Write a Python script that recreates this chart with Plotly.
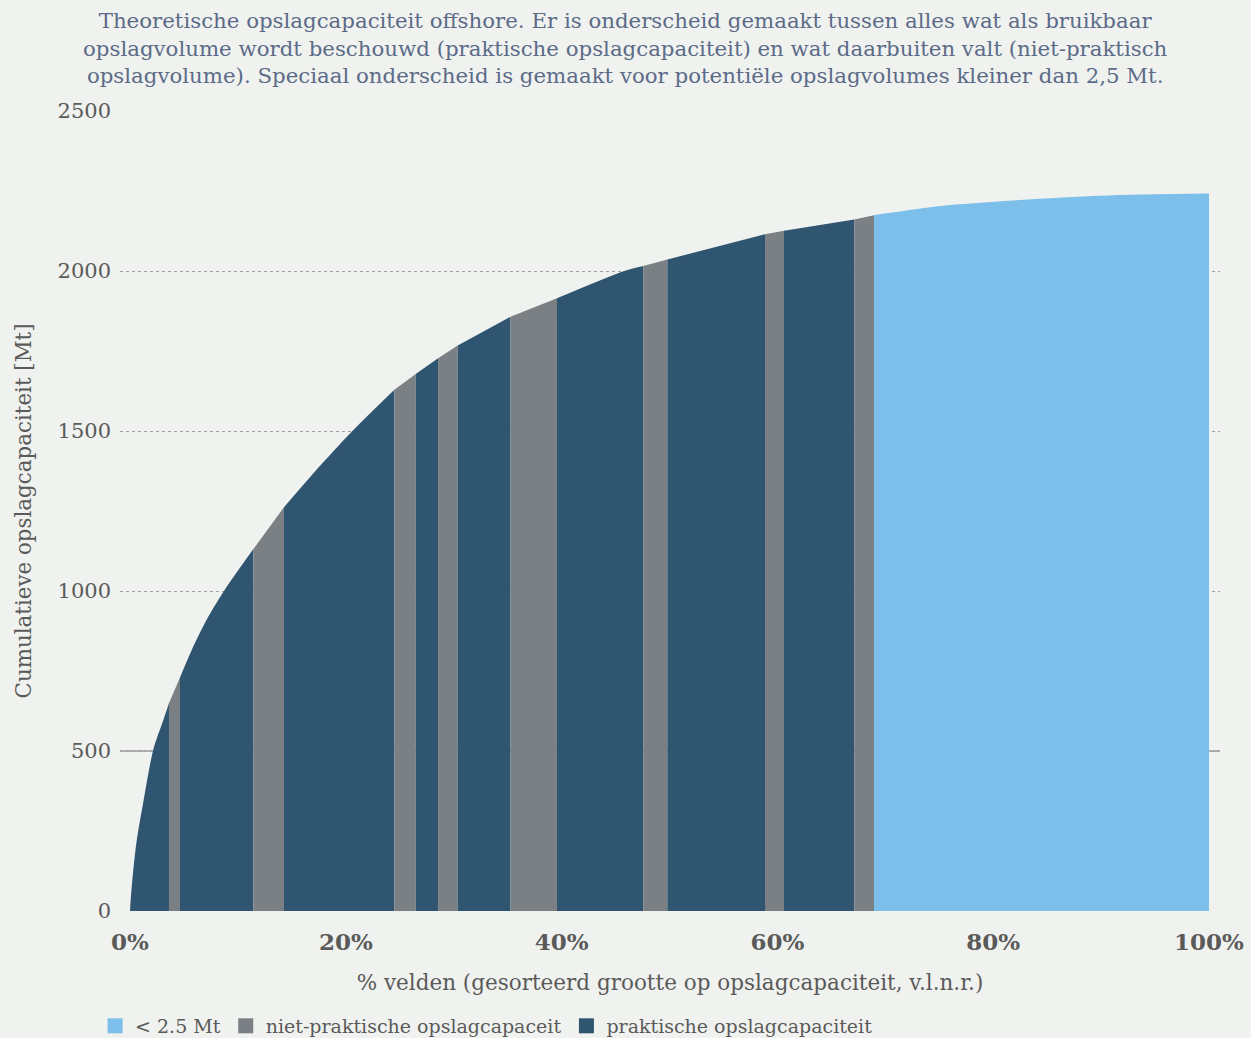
import plotly.graph_objects as go

# Upper boundary of the cumulative curve (% of fields, cumulative Mt)
pct = [0, 0.06, 0.25, 0.62, 1.23, 2.16, 3.09, 3.61, 4.63, 5.72, 7.26, 8.80, 11.43, 14.27,
       16.84, 20.70, 24.50, 26.48, 28.55, 30.37, 35.26, 39.57, 45.88, 47.57, 49.80,
       58.85, 60.61, 67.13, 68.95, 76.0, 89.9, 100]
cum = [0, 34, 110, 220, 340, 505, 597, 649, 730, 816, 920, 1005, 1131, 1262,
       1362, 1503, 1629, 1678, 1727, 1767, 1857, 1915, 2001, 2016, 2036,
       2115, 2126, 2161, 2174, 2206, 2235, 2242]

# Coloured segments along the x axis
seg_start = [0, 3.61, 4.63, 11.43, 14.27, 24.50, 26.48, 28.55, 30.37, 35.26,
             39.57, 47.57, 49.80, 58.85, 60.61, 67.13, 68.95]
seg_end = [3.61, 4.63, 11.43, 14.27, 24.50, 26.48, 28.55, 30.37, 35.26, 39.57,
           47.57, 49.80, 58.85, 60.61, 67.13, 68.95, 100]
seg_type = ["prak", "niet", "prak", "niet", "prak", "niet", "prak", "niet", "prak", "niet",
            "prak", "niet", "prak", "niet", "prak", "niet", "klein"]

labels = {"klein": "< 2.5 Mt", "niet": "niet-praktische opslagcapaceit",
          "prak": "praktische opslagcapaciteit"}
colors = {"klein": "#7bbfea", "niet": "#7a8084", "prak": "#2f5570"}

x_ticks = [0, 20, 40, 60, 80, 100]
x_ticktext = ["0%", "20%", "40%", "60%", "80%", "100%"]
y_ticks = [0, 500, 1000, 1500, 2000, 2500]

title_text = ("Theoretische opslagcapaciteit offshore. Er is onderscheid gemaakt tussen alles wat als bruikbaar<br>"
              "opslagvolume wordt beschouwd (praktische opslagcapaciteit) en wat daarbuiten valt (niet-praktisch<br>"
              "opslagvolume). Speciaal onderscheid is gemaakt voor potentiële opslagvolumes kleiner dan 2,5 Mt.")

FONT = "DejaVu Serif"
TXT = "#5a5a5a"
BG = "#f0f2ef"

fig = go.Figure()

for s, e, t in zip(seg_start, seg_end, seg_type):
    xs = [p for p in pct if s - 1e-9 <= p <= e + 1e-9]
    ys = [c for p, c in zip(pct, cum) if s - 1e-9 <= p <= e + 1e-9]
    fig.add_trace(go.Scatter(
        x=xs, y=ys, mode="lines", fill="tozeroy",
        fillcolor=colors[t], line=dict(width=0, color=colors[t], shape="spline", smoothing=0.8),
        showlegend=False, hoverinfo="skip"))

for i, key in enumerate(["klein", "niet", "prak"]):
    fig.add_trace(go.Scatter(
        x=[None], y=[None], mode="markers", name=labels[key],
        marker=dict(symbol="square", size=15, color=colors[key]),
        legendrank=i + 1))

# solid line at 500
fig.add_shape(type="line", xref="paper", yref="y", x0=0, x1=1, y0=500, y1=500,
              line=dict(color="#6a6a6a", width=1.2), layer="below")

fig.add_annotation(
    text=title_text, xref="paper", yref="paper", x=0.4595, y=1.131,
    xanchor="center", yanchor="top", showarrow=False, align="center",
    font=dict(family=FONT, size=21.3, color="#5b6b88"))

fig.update_layout(
    width=1251, height=1038,
    paper_bgcolor=BG, plot_bgcolor=BG,
    margin=dict(l=120, r=31, t=111, b=127, autoexpand=False),
    font=dict(family=FONT, color=TXT),
    xaxis=dict(
        range=[-0.93, 101.02], tickvals=x_ticks, ticktext=x_ticktext,
        showgrid=False, zeroline=False, showline=False, ticks="",
        automargin=False,
        tickfont=dict(family=FONT, size=23, color=TXT, weight="bold"),
        ticklabelstandoff=15,
        title=dict(text="% velden (gesorteerd grootte op opslagcapaciteit, v.l.n.r.)",
                   font=dict(family=FONT, size=21.5, color=TXT), standoff=20),
    ),
    yaxis=dict(
        range=[0, 2500], tickvals=y_ticks,
        showgrid=True, gridcolor="#a0a0a0", griddash="dot", gridwidth=1,
        zeroline=False, showline=False, ticks="",
        automargin=False,
        tickfont=dict(family=FONT, size=21, color=TXT),
        ticklabelstandoff=8,
        title=dict(text="Cumulatieve opslagcapaciteit [Mt]",
                   font=dict(family=FONT, size=21.4, color=TXT), standoff=20),
    ),
    legend=dict(
        orientation="h", xref="container", yref="container",
        x=0.076, xanchor="left", y=0.0116, yanchor="middle",
        font=dict(family=FONT, size=19, color=TXT),
        bgcolor="rgba(0,0,0,0)", itemwidth=30, tracegroupgap=0,
    ),
)

fig.write_html(
    "out.html",
    config={"displayModeBar": False},
    post_script="document.body.style.margin='0';document.body.style.background='%s';" % BG)
